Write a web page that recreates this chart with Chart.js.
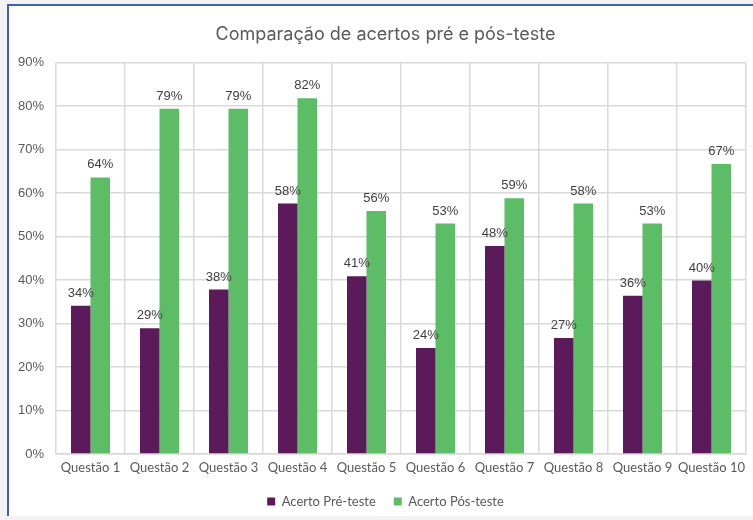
<!DOCTYPE html>
<html>
<head>
<meta charset="utf-8">
<script src="https://cdn.jsdelivr.net/npm/chart.js@4"></script>
<style>
  html, body { margin: 0; padding: 0; background: #f3f3f3; overflow: hidden; }
  #frame {
    position: absolute; left: 7px; top: 4px;
    width: 760px; height: 510px;
    border-top: 2px solid #3a62b8; border-left: 2px solid #3a62b8;
    background: #ffffff; overflow: hidden;
  }
  #chartBox { position: absolute; left: 0; top: 0; width: 753px; height: 512px; }
</style>
</head>
<body>
<div id="frame">
  <div id="chartBox"><canvas id="acertosChart"></canvas></div>
</div>
<script>
// Data
const categories = ["Questão 1", "Questão 2", "Questão 3", "Questão 4", "Questão 5",
  "Questão 6", "Questão 7", "Questão 8", "Questão 9", "Questão 10"];
const preTeste = [34.1, 28.9, 37.8, 57.6, 40.9, 24.4, 47.8, 26.7, 36.4, 39.9];
const posTeste = [63.6, 79.4, 79.4, 81.8, 55.9, 53.0, 58.8, 57.6, 53.0, 66.7];
const yTicks = [0, 10, 20, 30, 40, 50, 60, 70, 80, 90];

// Value labels above bars
const barLabels = {
  id: "barLabels",
  afterDatasetsDraw(chart) {
    const ctx = chart.ctx;
    ctx.save();
    ctx.font = "13px 'Liberation Sans', Arial, sans-serif";
    ctx.fillStyle = "#404040";
    ctx.textAlign = "center";
    ctx.textBaseline = "bottom";
    chart.data.datasets.forEach(function (ds, i) {
      chart.getDatasetMeta(i).data.forEach(function (bar, j) {
        ctx.fillText(Math.round(ds.data[j]) + "%", bar.x, bar.y - 6);
      });
    });
    ctx.restore();
  },
};

let canvas = document.getElementById("acertosChart");
if (canvas) {
  var ctx = canvas.getContext("2d");
  var data = {
    labels: categories,
    datasets: [
      {
        label: "Acerto Pré-teste",
        data: preTeste,
        backgroundColor: "#5b1b5a",
        barPercentage: 1,
        categoryPercentage: 0.565,
      },
      {
        label: "Acerto Pós-teste",
        data: posTeste,
        backgroundColor: "#5cbd66",
        barPercentage: 1,
        categoryPercentage: 0.565,
      },
    ],
  };
  var options = {
    responsive: true,
    maintainAspectRatio: false,
    animation: false,
    layout: {
      padding: 0,
    },
    plugins: {
      title: {
        display: true,
        text: "Comparação de acertos pré e pós-teste",
        color: "#595959",
        font: { family: "Inter, 'Open Sans', sans-serif", size: 18, weight: "normal" },
        padding: { top: 18, bottom: 17 },
      },
      legend: {
        position: "bottom",
        labels: {
          color: "#595959",
          font: { family: "Lato, sans-serif", size: 13 },
          boxWidth: 8,
          boxHeight: 8,
          padding: 18,
        },
      },
      tooltip: { enabled: false },
    },
    scales: {
      x: {
        afterFit: function (scale) {
          scale.height = 23;
        },
        ticks: {
          color: "#595959",
          font: { family: "Lato, sans-serif", size: 13 },
          padding: 6,
          maxRotation: 0,
          autoSkip: false,
        },
        grid: {
          color: "#d9d9d9",
          lineWidth: 1.5,
          drawTicks: false,
          offset: true,
        },
        border: { color: "#d9d9d9", width: 1.5 },
      },
      y: {
        min: 0,
        max: 90,
        afterBuildTicks: function (scale) {
          scale.ticks = yTicks.map(function (v) { return { value: v }; });
        },
        afterFit: function (scale) {
          scale.width = 47;
        },
        ticks: {
          color: "#595959",
          font: { family: "'Liberation Sans', Arial, sans-serif", size: 13 },
          padding: 12,
          callback: function (v) { return v + "%"; },
        },
        grid: {
          color: "#d9d9d9",
          lineWidth: 1.5,
          drawTicks: false,
        },
        border: { display: false },
      },
      // empty right-hand spacer so the plot stops short of the right edge
      yRight: {
        position: "right",
        afterFit: function (scale) {
          scale.width = 16;
        },
        ticks: { display: false },
        grid: { display: false, drawTicks: false },
        border: { display: false },
      },
    },
  };
  var acertosChart = new Chart(ctx, {
    type: "bar",
    data: data,
    options: options,
    plugins: [barLabels],
  });
}
</script>
</body>
</html>
